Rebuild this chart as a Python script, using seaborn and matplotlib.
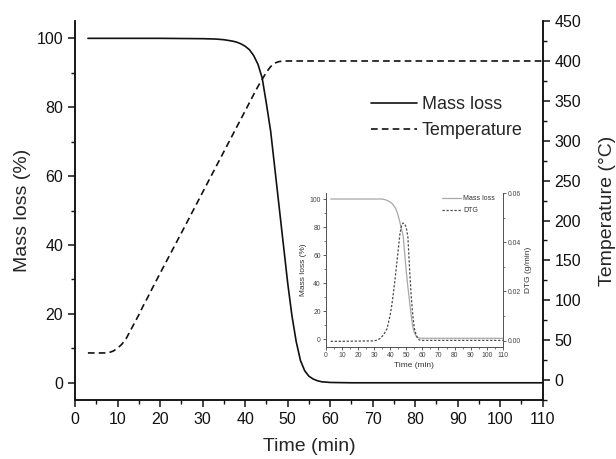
import pandas as pd
import matplotlib
matplotlib.use("Agg")
import matplotlib.pyplot as plt
import matplotlib.lines as mlines
from matplotlib.ticker import MultipleLocator, AutoMinorLocator
import seaborn as sns

# main panel: mass loss (%) and furnace temperature (degC) vs time (min)
mass_time = [3, 10, 20, 30, 33, 35, 36, 37, 38, 39, 40, 41, 42, 43, 44, 45, 46, 47, 48, 49,
             50, 51, 52, 53, 54, 55, 56, 57, 58, 60, 65, 70, 80, 90, 100, 110]
mass_loss = [100, 100, 100, 99.9, 99.8, 99.6, 99.4, 99.2, 98.9, 98.4, 97.7, 96.7, 95.0,
             92.5, 88.5, 81, 73, 62, 51, 40, 29, 19.5, 12, 6.5, 3.5, 1.9, 1.1, 0.6, 0.3,
             0.1, 0, 0, 0, 0, 0, 0]

temp_time = [3, 5, 7, 8, 9, 10, 11, 12, 13, 14, 15, 16, 17, 18, 20, 25, 30, 35, 40,
             42, 43, 44, 45, 46, 47, 48, 49, 50, 55, 60, 70, 80, 90, 100, 110]
temperature = [34, 34, 34, 34.5, 36.5, 40, 45, 52, 62, 72, 82, 93, 103, 113.5, 134,
               184.5, 235.5, 286.5, 337.5, 358, 368, 377, 386, 393, 397.5, 399.3, 400,
               400, 400, 400, 400, 400, 400, 400, 400]

# inset: mass loss (%) and DTG (g/min)
inset_time = [3, 10, 20, 30, 35, 37, 39, 41, 43, 44, 45, 46, 47, 48, 49, 50, 51, 52,
              53, 54, 55, 56, 57, 58, 60, 70, 80, 90, 100, 110]
inset_mass = [100, 100, 100, 100, 100, 99.5, 98.5, 97, 94, 91.5, 88, 83.5, 78.5, 74,
              61, 48, 37, 27, 17, 9, 4.5, 2.2, 1.2, 0.8, 0.5, 0.5, 0.5, 0.5, 0.5, 0.5]

dtg_time = [3, 10, 20, 30, 32, 34, 36, 38, 40, 41, 42, 43, 44, 45, 46, 47, 48, 49,
            50, 51, 52, 53, 54, 55, 56, 57, 58, 60, 70, 80, 90, 100, 110]
dtg = [-0.0003, -0.0003, -0.0002, -0.0001, 0.0002, 0.001, 0.0025, 0.0048, 0.0105,
       0.0145, 0.0195, 0.025, 0.031, 0.037, 0.0432, 0.0468, 0.0478, 0.0475, 0.0458,
       0.042, 0.0295, 0.0185, 0.0105, 0.005, 0.0025, 0.001, 0.0003, 0.0001,
       0.0001, 0.0001, 0.0001, 0.0001, 0.0001]

sns.set_theme(style="ticks")
plt.rcParams["font.family"] = ["Liberation Sans", "DejaVu Sans"]

main_df = pd.DataFrame({"time": mass_time, "mass": mass_loss})
temp_df = pd.DataFrame({"time": temp_time, "temp": temperature})
inset_df = pd.DataFrame({"time": inset_time, "mass": inset_mass})
dtg_df = pd.DataFrame({"time": dtg_time, "dtg": dtg})

fig = plt.figure(figsize=(6.16, 4.59), dpi=100)
ax = fig.add_axes([0.122, 0.1285, 0.759, 0.8255])
ax2 = ax.twinx()

sns.lineplot(data=main_df, x="time", y="mass", ax=ax, color="#111111", linewidth=1.2)
sns.lineplot(data=temp_df, x="time", y="temp", ax=ax2, color="#111111", linewidth=1.2,
             linestyle=(0, (4, 2.5)))

ax.set_xlim(0, 110)
ax.set_ylim(-5, 105)
ax2.set_ylim(-25, 450)
ax.xaxis.set_major_locator(MultipleLocator(10))
ax.xaxis.set_minor_locator(AutoMinorLocator(2))
ax.yaxis.set_major_locator(MultipleLocator(20))
ax.yaxis.set_minor_locator(AutoMinorLocator(2))
ax2.yaxis.set_major_locator(MultipleLocator(50))
ax2.yaxis.set_minor_locator(AutoMinorLocator(2))

for a in (ax, ax2):
    a.spines["top"].set_visible(False)
    for s in a.spines.values():
        s.set_linewidth(1.1)
        s.set_color("#111111")
    a.tick_params(which="major", direction="out", length=5, width=1.1, labelsize=11.5,
                  pad=3.5, colors="#111111")
    a.tick_params(which="minor", direction="out", length=3, width=1.0, colors="#111111")

ax.set_xlabel("Time (min)", fontsize=14, labelpad=8)
ax.set_ylabel("Mass loss (%)", fontsize=14, labelpad=4)
ax2.set_ylabel("Temperature (°C)", fontsize=14, labelpad=13)

h1 = mlines.Line2D([], [], color="#111111", linewidth=1.2, label="Mass loss")
h2 = mlines.Line2D([], [], color="#111111", linewidth=1.2, linestyle=(0, (4, 2.5)),
                   label="Temperature")
fig.legend(handles=[h1, h2], loc="upper left", bbox_to_anchor=(0.603, 0.79),
           frameon=False, fontsize=13, handlelength=2.5, handletextpad=0.3,
           labelspacing=0.5, borderpad=0, borderaxespad=0)

# inset
ins = fig.add_axes([0.529, 0.244, 0.2873, 0.3355])
ins2 = ins.twinx()
sns.lineplot(data=inset_df, x="time", y="mass", ax=ins, color="#a8a8a8", linewidth=0.9)
sns.lineplot(data=dtg_df, x="time", y="dtg", ax=ins2, color="#4a4a4a", linewidth=0.9,
             linestyle=(0, (1.8, 1.4)))

ins.set_xlim(0, 110)
ins.set_ylim(-5.7, 104.3)
ins2.set_ylim(-0.0026, 0.06)
ins.xaxis.set_major_locator(MultipleLocator(10))
ins.xaxis.set_minor_locator(AutoMinorLocator(2))
ins.yaxis.set_major_locator(MultipleLocator(20))
ins.yaxis.set_minor_locator(AutoMinorLocator(2))
ins2.yaxis.set_major_locator(MultipleLocator(0.02))
ins2.yaxis.set_minor_locator(AutoMinorLocator(2))
ins2.yaxis.set_major_formatter(matplotlib.ticker.FormatStrFormatter("%.2f"))

for a in (ins, ins2):
    a.patch.set_alpha(0)
    a.spines["top"].set_visible(False)
    for s in a.spines.values():
        s.set_linewidth(0.7)
        s.set_color("#555555")
    a.tick_params(which="major", direction="out", length=2.2, width=0.6, labelsize=4.9,
                  pad=1.5, colors="#444444")
    a.tick_params(which="minor", direction="out", length=1.3, width=0.5, colors="#444444")

ins.set_xlabel("Time (min)", fontsize=6, labelpad=2, color="#333333")
ins.set_ylabel("Mass loss (%)", fontsize=6, labelpad=2, color="#333333")
ins2.set_ylabel("DTG (g/min)", fontsize=6, labelpad=3, color="#333333")

ih1 = mlines.Line2D([], [], color="#a8a8a8", linewidth=0.9, label="Mass loss")
ih2 = mlines.Line2D([], [], color="#4a4a4a", linewidth=0.9, linestyle=(0, (1.8, 1.4)),
                    label="DTG")
fig.legend(handles=[ih1, ih2], loc="upper left", bbox_to_anchor=(0.717, 0.575),
           frameon=False, fontsize=5, handlelength=2.8, handletextpad=0.3,
           labelspacing=0.7, borderpad=0, borderaxespad=0, labelcolor="#333333")

fig.savefig("out.png", dpi=100)
